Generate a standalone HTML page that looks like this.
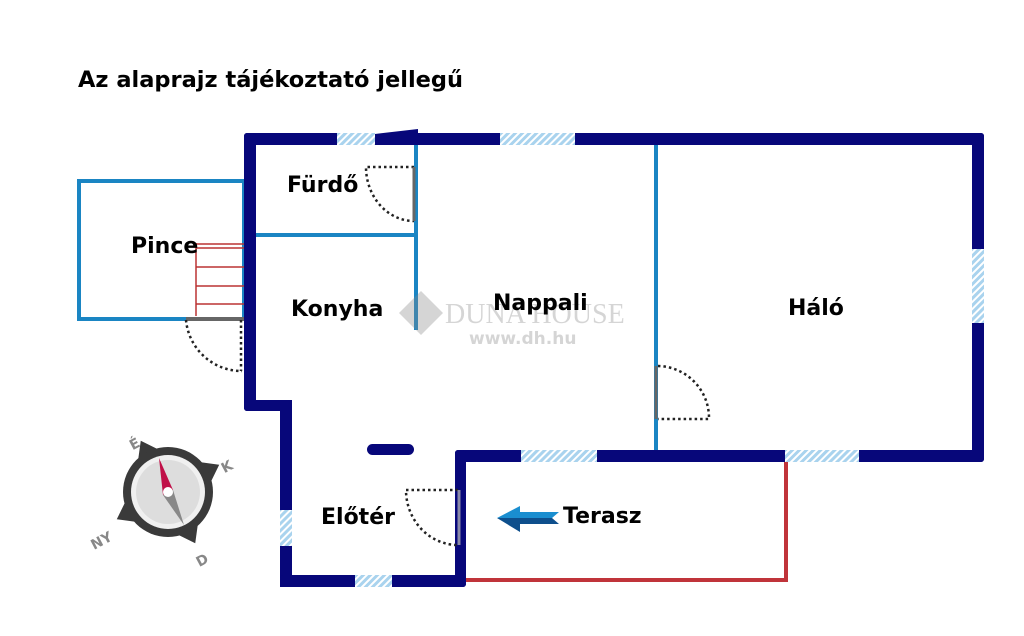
<!DOCTYPE html>
<html><head><meta charset="utf-8"><style>
html,body{margin:0;padding:0;background:#fff;width:1024px;height:636px;overflow:hidden}
svg{display:block}
text{font-family:"DejaVu Sans","Liberation Sans",sans-serif;font-weight:bold}
</style></head><body>
<svg width="1024" height="636" viewBox="0 0 1024 636" xmlns="http://www.w3.org/2000/svg">
<defs>
<pattern id="h" width="5" height="5" patternUnits="userSpaceOnUse" patternTransform="rotate(45)">
<rect width="5" height="5" fill="#a9d3ee"/><rect width="2" height="5" fill="#fff"/>
</pattern>
</defs>
<text x="78" y="87" font-size="22.5" fill="#000">Az alaprajz tájékoztató jellegű</text>

<!-- Pince -->
<rect x="79" y="181" width="165" height="138" fill="none" stroke="#1a85c3" stroke-width="4"/>
<g stroke="#b33" stroke-width="1.5">
<line x1="196" y1="243" x2="196" y2="316"/>
<line x1="196" y1="244" x2="244" y2="244"/><line x1="196" y1="248" x2="244" y2="248"/>
<line x1="196" y1="267" x2="244" y2="267"/><line x1="196" y1="286" x2="244" y2="286"/>
<line x1="196" y1="304" x2="244" y2="304"/>
</g>
<line x1="186" y1="319" x2="244" y2="319" stroke="#666" stroke-width="4"/>
<path d="M186 320 A56 56 0 0 0 242 371" fill="none" stroke="#222" stroke-width="2.5" stroke-dasharray="2.5 3"/>
<line x1="241" y1="320" x2="241" y2="371" stroke="#222" stroke-width="2.5" stroke-dasharray="2.5 3"/>

<!-- interior blue walls -->
<g stroke="#1a85c3" stroke-width="4" fill="none">
<line x1="256" y1="235" x2="418" y2="235"/>
<line x1="416" y1="145" x2="416" y2="330"/>
<line x1="656" y1="145" x2="656" y2="450"/>
</g>

<!-- Terasz -->
<g stroke="#c0343a" stroke-width="4" fill="none">
<polyline points="465,580 786,580 786,462"/>
</g>

<!-- outer walls -->
<g fill="#07077a">
<rect x="244" y="133" width="740" height="12" rx="3"/>
<rect x="972" y="133" width="12" height="329" rx="3"/>
<rect x="455" y="450" width="529" height="12" rx="3"/>
<rect x="244" y="133" width="12" height="278" rx="3"/>
<rect x="244" y="400" width="48" height="11" rx="3"/>
<rect x="280" y="400" width="12" height="187"/>
<rect x="280" y="575" width="186" height="12" rx="3"/>
<rect x="455" y="450" width="11" height="137" rx="3"/>
<rect x="367" y="444" width="47" height="11" rx="5.5"/>
</g>
<!-- windows -->
<g fill="url(#h)">
<rect x="337" y="133" width="38" height="12"/>
<rect x="500" y="133" width="75" height="12"/>
<rect x="972" y="249" width="12" height="74"/>
<rect x="521" y="450" width="76" height="12"/>
<rect x="785" y="450" width="74" height="12"/>
<rect x="280" y="510" width="12" height="36"/>
<rect x="355" y="575" width="37" height="12"/>
</g>
<rect x="375" y="130" width="43" height="15" fill="#fff"/>
<polygon points="375,134 418,129 418,145 375,145" fill="#07077a"/>

<!-- doors -->
<g fill="none" stroke="#222" stroke-width="2.5" stroke-dasharray="2.5 3">
<path d="M414 167 L366 167 A48 54 0 0 0 414 221"/>
<path d="M658 366 A52 52 0 0 1 709 419 L658 419"/>
<path d="M458 490 L406 490 A52 55 0 0 0 458 545"/>
</g>
<line x1="414" y1="167" x2="414" y2="221" stroke="#666" stroke-width="3"/>
<line x1="656" y1="366" x2="656" y2="419" stroke="#666" stroke-width="3"/>
<line x1="459" y1="490" x2="459" y2="545" stroke="#8a8aa8" stroke-width="3"/>

<!-- watermark -->
<g opacity="0.35">
<polygon points="421,291 443,313 421,335 399,313" fill="#888"/>
<text x="445" y="323" font-size="28" fill="#888" style="font-family:'Liberation Serif',serif;font-weight:normal">DUNA HOUSE</text>
<text x="469" y="344" font-size="17" fill="#888">www.dh.hu</text>
</g>

<!-- labels -->
<g font-size="22" fill="#000">
<text x="287" y="192">Fürdő</text>
<text x="131" y="253">Pince</text>
<text x="291" y="316">Konyha</text>
<text x="493" y="310">Nappali</text>
<text x="788" y="315">Háló</text>
<text x="321" y="524">Előtér</text>
<text x="563" y="523">Terasz</text>
</g>

<!-- arrow -->
<polygon points="497,518 520,506 520,512 559,512 552,518" fill="#1a8ed0"/>
<polygon points="497,518 552,518 559,524 520,524 520,532" fill="#0e4f8c"/>

<!-- compass -->
<g transform="translate(168,492)">
<g fill="#3a3a3a" transform="rotate(-28)">
<polygon points="-13,-40 13,-40 0,-58"/><polygon points="-13,40 13,40 0,58"/>
<polygon points="-40,-13 -40,13 -58,0"/><polygon points="40,-13 40,13 58,0"/>
</g>
<circle r="45" fill="#3a3a3a"/>
<circle r="37" fill="#f0f0f0"/>
<circle r="32" fill="#ddd"/>
<polygon points="-9,-34 -5,3 5,-2" fill="#c01048"/>
<polygon points="-5,3 5,-2 16,33" fill="#888"/>
<circle r="5" fill="#fff"/>
<g font-size="14" fill="#888">
<text x="-38" y="-44" transform="rotate(-28 -32 -48)">É</text>
<text x="54" y="-20" transform="rotate(-28 58 -24)">K</text>
<text x="28" y="74" transform="rotate(-28 32 68)">D</text>
<text x="-78" y="54" transform="rotate(-28 -68 48)">NY</text>
</g>
</g>
</svg>
</body></html>
